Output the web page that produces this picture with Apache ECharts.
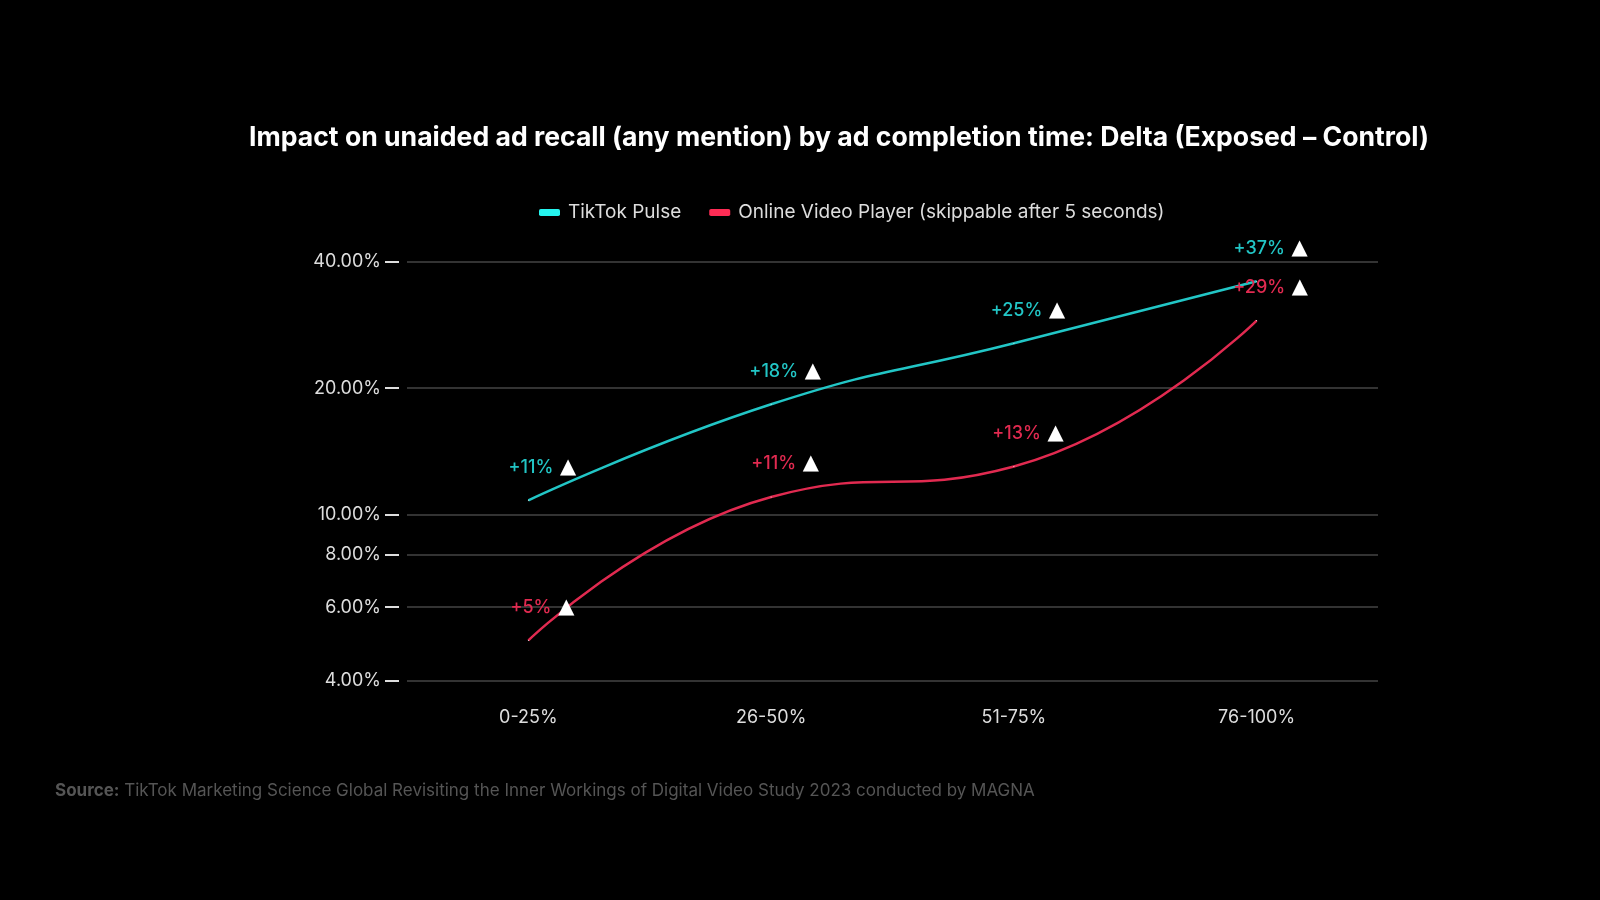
<!DOCTYPE html>
<html>
<head>
<meta charset="utf-8">
<title>Impact on unaided ad recall</title>
<script src="https://cdn.jsdelivr.net/npm/echarts@6/dist/echarts.min.js"></script>
<style>
  html, body { margin: 0; padding: 0; background: #000; }
  #main { width: 1600px; height: 900px; }
</style>
</head>
<body>
<div id="main"></div>
<script>
// chart data
const categories = ['0-25%', '26-50%', '51-75%', '76-100%'];
const tiktokPulse = [10.8, 18.3, 25.6, 36];
const onlineVideo = [5, 11, 13, 29];
const tiktokLabels = ['+11%', '+18%', '+25%', '+37%'];
const onlineLabels = ['+5%', '+11%', '+13%', '+29%'];
const yTicks = [4, 6, 8, 10, 20, 40];

const CYAN = '#22c6c6';
const RED = '#e12a50';
const FONT = 'Inter, "Noto Sans", sans-serif';

const chartDom = document.getElementById('main');
const myChart = echarts.init(chartDom);

const makeLabel = (texts, color) => ({
  show: true,
  position: 'top',
  distance: 0,
  offset: [14, -21],
  formatter: (p) => '{v|' + texts[p.dataIndex] + '}  {t|▲}',
  rich: {
    v: { color: color, fontFamily: FONT, fontSize: 18, fontWeight: 500 },
    t: { color: '#fff', fontFamily: '"DejaVu Sans", sans-serif', fontSize: 21 }
  }
});

const option = {
  backgroundColor: '#000',
  title: [
    {
      text: 'Impact on unaided ad recall (any mention) by ad completion time: Delta (Exposed \u2013 Control)',
      left: 834,
      top: 119,
      textAlign: 'center',
      textStyle: { color: '#fff', fontFamily: FONT, fontSize: 26.6, fontWeight: 700, letterSpacing: -0.7 }
    },
    {
      text: '{b|Source:} TikTok Marketing Science Global Revisiting the Inner Workings of Digital Video Study 2023 conducted by MAGNA',
      left: 50,
      top: 777,
      textStyle: {
        color: '#555',
        fontFamily: FONT,
        fontSize: 17,
        fontWeight: 'normal',
        rich: { b: { color: '#555', fontFamily: FONT, fontSize: 17, fontWeight: 700 } }
      }
    }
  ],
  legend: {
    top: 198,
    left: 534,
    itemWidth: 21,
    itemHeight: 7,
    itemGap: 28,
    icon: 'roundRect',
    textStyle: { color: '#ddd', fontFamily: FONT, fontSize: 19, padding: [0, 0, 0, 3] },
    data: [
      { name: 'TikTok Pulse', itemStyle: { color: '#25f4ee', opacity: 1 } },
      { name: 'Online Video Player (skippable after 5 seconds)', itemStyle: { color: '#fe2c55', opacity: 1 } }
    ]
  },
  grid: { left: 407, right: 222, top: 262, bottom: 219 },
  xAxis: {
    type: 'category',
    data: categories,
    axisLine: { show: false },
    axisTick: { show: false },
    axisLabel: { color: '#ddd', fontFamily: FONT, fontSize: 18, margin: 28 }
  },
  yAxis: {
    type: 'log',
    logBase: 10,
    min: 4,
    max: 40,
    offset: 8,
    axisLine: { show: false },
    axisTick: { show: true, length: 14, customValues: yTicks, lineStyle: { color: '#ddd', width: 2 } },
    axisLabel: {
      customValues: yTicks,
      color: '#ddd',
      fontFamily: FONT,
      fontSize: 18,
      margin: 18,
      formatter: (v) => v.toFixed(2) + '%'
    },
    splitLine: { show: true, lineStyle: { color: '#333', width: 2 } }
  },
  series: [
    {
      name: 'TikTok Pulse',
      type: 'line',
      smooth: true,
      showSymbol: true,
      symbolSize: 1,
      itemStyle: { color: 'rgba(0,0,0,0)', borderWidth: 0 },
      lineStyle: { color: CYAN, width: 2.5 },
      label: makeLabel(tiktokLabels, CYAN),
      data: tiktokPulse
    },
    {
      name: 'Online Video Player (skippable after 5 seconds)',
      type: 'line',
      smooth: true,
      showSymbol: true,
      symbolSize: 1,
      itemStyle: { color: 'rgba(0,0,0,0)', borderWidth: 0 },
      lineStyle: { color: RED, width: 2.5 },
      label: makeLabel(onlineLabels, RED),
      data: onlineVideo
    }
  ]
};

option && myChart.setOption(option);
</script>
</body>
</html>
